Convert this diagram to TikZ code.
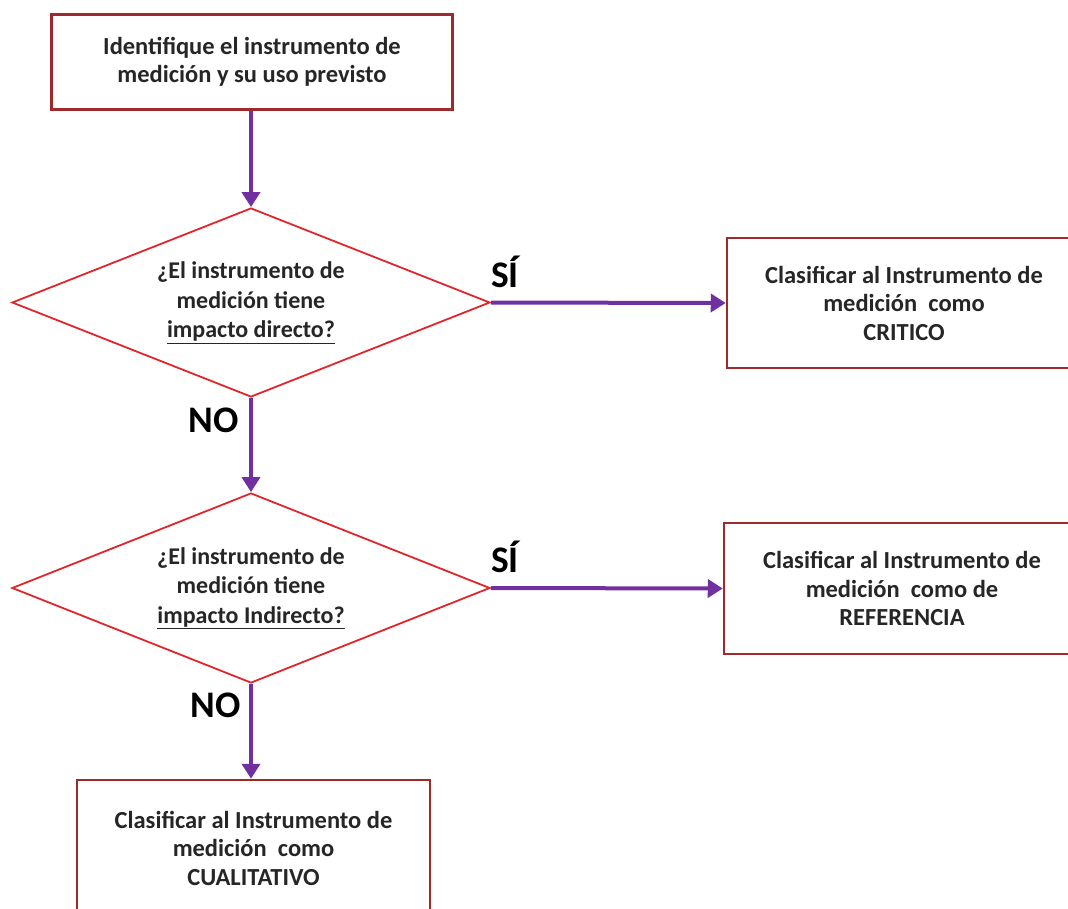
\documentclass[tikz,border=0pt]{standalone}
\usepackage{fontspec}
\setmainfont{Carlito}
\usetikzlibrary{shapes.geometric,arrows.meta}
\definecolor{boxred}{HTML}{9E2A2B}
\definecolor{decred}{HTML}{E0262B}
\definecolor{flowpurple}{HTML}{7030A0}
\definecolor{txtgray}{HTML}{262626}

\begin{document}
\begin{tikzpicture}[x=1pt,y=-1pt,
  procbox/.style={draw=boxred,line width=2.5pt,fill=white,rectangle,
    text=txtgray,align=center,inner sep=0pt,
    font=\fontsize{24.5}{28.5}\selectfont\bfseries},
  decision/.style={draw=decred,line width=1.8pt,diamond,aspect=2.53,
    inner sep=0pt,text=txtgray,align=center,
    font=\fontsize{24}{29.5}\selectfont\bfseries},
  flow/.style={draw=flowpurple,line width=4pt,
    -{Triangle[length=15pt,width=18pt]}},
  answer/.style={text=black,font=\fontsize{37.5}{40}\selectfont\bfseries,inner sep=0pt}
]
\useasboundingbox (0,0) rectangle (1068,909);
\clip (0,0) rectangle (1068,909);

% process boxes
\node[procbox,minimum width=401pt,minimum height=95pt,
      font=\fontsize{24.5}{28}\selectfont\bfseries] (start) at (252,62)
  {Identifique el instrumento de\\medición y su uso previsto};
\node[procbox,minimum width=354pt,minimum height=130pt] (critico) at (904,303)
  {Clasificar al Instrumento de\\medición\ \ como\\CRITICO};
\node[procbox,minimum width=356pt,minimum height=131pt] (referencia) at (902,588.5)
  {Clasificar al Instrumento de\\medición\ \ como de\\REFERENCIA};
\node[procbox,minimum width=353pt,minimum height=136pt] (cualitativo) at (253.5,848)
  {Clasificar al Instrumento de\\medición\ \ como\\CUALITATIVO};

% decisions
\node[decision,minimum width=478pt,minimum height=189pt] (d1) at (251,302.5)
  {¿El instrumento de\\medición tiene\\\underline{impacto directo?}};
\node[decision,minimum width=478pt,minimum height=190pt] (d2) at (251,588)
  {¿El instrumento de\\medición tiene\\\underline{impacto Indirecto?}};

% connectors
\draw[flow] (start.south -| d1.north) -- (d1.north);
\draw[flow] (d1.east) -- (critico.west);
\draw[flow] (d1.south) -- (d2.north);
\draw[flow] (d2.east) -- (referencia.west);
\draw[flow] (d2.south) -- (d2.south |- cualitativo.north);

% branch labels
\node[answer] (si1) at (505,272) {SÍ};
\node[answer] (no1) at (214,420) {NO};
\node[answer] (si2) at (505,557) {SÍ};
\node[answer] (no2) at (216,705) {NO};
\end{tikzpicture}
\end{document}
